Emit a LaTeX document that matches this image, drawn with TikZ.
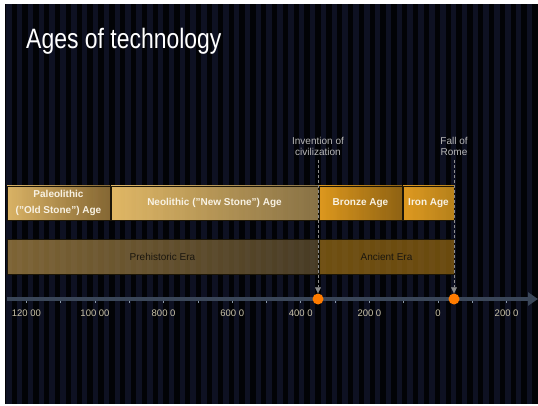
\documentclass[tikz,border=0pt]{standalone}
\usepackage{fontspec}
\setmainfont{Liberation Sans}
\newfontfamily\titlefont[FakeStretch=0.82]{Liberation Sans}
\usetikzlibrary{positioning,arrows.meta}
\definecolor{bgblack}{HTML}{020306}
\definecolor{bgnavy}{HTML}{0E1122}
\definecolor{paleoA}{HTML}{EAC06C}
\definecolor{paleoB}{HTML}{8E6E36}
\definecolor{neoA}{HTML}{F1C56C}
\definecolor{neoB}{HTML}{927A4A}
\definecolor{bronzeA}{HTML}{EDA31E}
\definecolor{bronzeB}{HTML}{996914}
\definecolor{ironA}{HTML}{EFA521}
\definecolor{ironB}{HTML}{C38A1C}
\definecolor{preA}{HTML}{9D7D41}
\definecolor{preB}{HTML}{5A4A2C}
\definecolor{ancA}{HTML}{8A6214}
\definecolor{ancB}{HTML}{845C11}
\definecolor{boxedge}{HTML}{1C1608}
\definecolor{agetext}{HTML}{F8F2E4}
\definecolor{eratext}{HTML}{1A160E}
\definecolor{notegray}{HTML}{B8B8B8}
\definecolor{pointgray}{HTML}{8C8C8C}
\definecolor{axisgray}{HTML}{3A4658}
\definecolor{tickgray}{HTML}{8A98A8}
\definecolor{yeargray}{HTML}{C9C2A8}
\definecolor{markorange}{HTML}{FF7B00}
\begin{document}
\begin{tikzpicture}[x=1pt,y=-1pt,
		agebox/.style={draw=boxedge,line width=0.8pt,inner sep=0pt,outer sep=0pt,minimum height=34pt,
			text=agetext,font=\bfseries\fontsize{10}{15.5}\selectfont,align=center,fill opacity=0.93,text opacity=1},
		erabox/.style={draw=boxedge,line width=0.8pt,inner sep=0pt,outer sep=0pt,minimum height=35pt,
			text=eratext,font=\fontsize{10}{12}\selectfont,fill opacity=0.8,text opacity=1,anchor=north west},
		note/.style={text=notegray,font=\fontsize{10}{11}\selectfont,align=center,inner sep=0pt},
		pointer/.style={draw=pointgray,line width=0.7pt,dash pattern=on 3pt off 2pt,
			-{Triangle[length=6pt,width=6pt,fill=pointgray]}},
		marker/.style={circle,fill=markorange,minimum size=11pt,inner sep=0pt},
		axisline/.style={draw=axisgray,line width=4.5pt,-{Triangle[length=10pt,width=13pt]}},
		tickmark/.style={draw=tickgray,line width=0.8pt},
		yearlab/.style={text=yeargray,font=\fontsize{9.5}{11}\selectfont,inner sep=0pt}]
		\useasboundingbox (0,0) rectangle (538,406);
		% background with stripes
		\fill[white] (0,0) rectangle (538,406);
		\fill[bgblack] (5,4) rectangle (538,404);
		\foreach \i in {0,...,49}
		\fill[bgnavy] (6+10.85*\i,4) rectangle ++(5.5,400);
		
		\node[anchor=base west,inner sep=0pt,text=white,font=\titlefont\fontsize{28}{30}\selectfont] (title) at (26,49) {Ages of technology};
		
		% ages
		\node[agebox,minimum width=103pt,left color=paleoA,right color=paleoB] (paleo) at (58.5,203) {Paleolithic\\("Old Stone") Age};
		\node[agebox,minimum width=207pt,left color=neoA,right color=neoB,right=1pt of paleo] (neo) {Neolithic ("New Stone") Age};
		\node[agebox,minimum width=83pt,left color=bronzeA,right color=bronzeB,right=1pt of neo] (bronze) {Bronze Age};
		\node[agebox,minimum width=51pt,left color=ironA,right color=ironB,right=1pt of bronze] (iron) {Iron Age};
		
		% eras
		\node[erabox,minimum width=311pt,left color=preA,right color=preB] (prehist) at (7,239) {Prehistoric Era};
		\node[erabox,minimum width=135pt,left color=ancA,right color=ancB,right=1pt of prehist.north east,anchor=north west] (ancient) {Ancient Era};
		
		% time axis
		\coordinate (axisstart) at (7,299);
		\coordinate (axisend) at (538,299);
		\draw[axisline] (axisstart) -- (axisend);
		\foreach \k in {-12,...,2}
		\draw[tickmark] (438+34.3*\k,300.5) -- ++(0,2.5);
		\foreach \k/\lab in {-12/120 00,-10/100 00,-8/800 0,-6/600 0,-4/400 0,-2/200 0,0/0,2/200 0}
		\node[yearlab] (yr\k) at (438+34.3*\k,313.5) {\lab};
		
		% events
		\node[marker] (civ) at (318,299) {};
		\node[marker] (rome) at (454,299) {};
		\coordinate (civtop) at (318,160);
		\coordinate (rometop) at (454,160);
		\node[note,above=4pt of civtop] (civtext) {Invention of\\civilization};
		\node[note,above=4pt of rometop] (rometext) {Fall of\\Rome};
		\draw[pointer] (civtop) -- (civ.north);
		\draw[pointer] (rometop) -- (rome.north);
	\end{tikzpicture}
\end{document}
